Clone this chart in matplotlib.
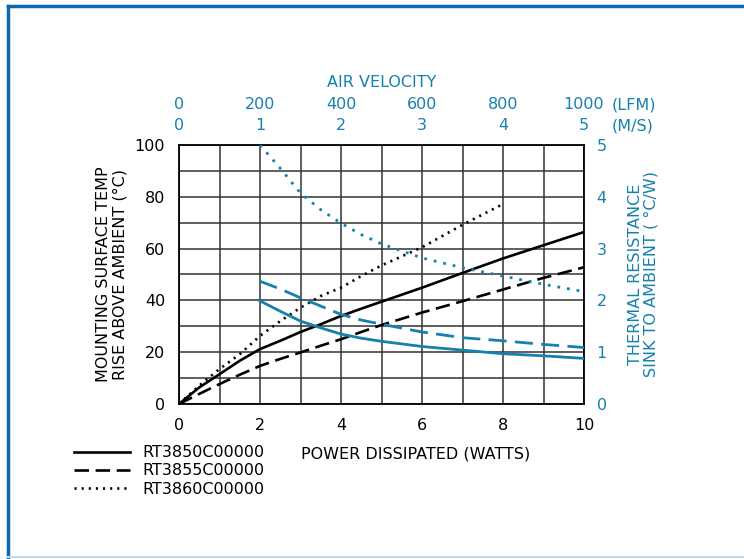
import matplotlib.pyplot as plt
from matplotlib.lines import Line2D

# power dissipated (W) vs temperature rise (deg C)
power = [0, 0.5, 1, 1.5, 2, 2.5, 3, 3.5, 4, 4.5, 5, 6, 7, 8, 9, 10]
rt3850_temp = [0, 6.4, 11.5, 16.7, 21.2, 24.4, 27.8, 30.8, 34.0, 36.8, 39.5,
               44.9, 50.6, 56.2, 61.3, 66.4]
rt3855_temp = [0, 3.9, 7.7, 11.3, 14.7, 17.4, 19.9, 22.5, 25.0, 27.8, 30.5,
               35.3, 39.7, 44.2, 48.7, 52.8]
power_3860 = [0, 0.5, 1, 1.5, 2, 2.5, 3, 3.5, 4, 4.5, 5, 6, 7, 8]
rt3860_temp = [0, 7.1, 13.5, 19.2, 26.3, 32.0, 37.2, 41.7, 44.9, 49.4, 53.5,
               60.5, 69.2, 77.2]

# air velocity (bottom-axis units, 2 = 200 LFM) vs thermal resistance (deg C/W)
velocity = [2, 2.5, 3, 3.5, 4, 4.5, 5, 6, 7, 8, 9, 10]
rt3850_res = [1.99, 1.79, 1.60, 1.47, 1.35, 1.27, 1.21, 1.11, 1.04, 0.97, 0.93, 0.88]
rt3855_res = [2.37, 2.22, 2.05, 1.89, 1.73, 1.62, 1.54, 1.39, 1.28, 1.22, 1.15, 1.09]
rt3860_res = [5.0, 4.55, 4.07, 3.75, 3.49, 3.27, 3.09, 2.82, 2.63, 2.47, 2.31, 2.17]

lfm_labels = ['0', '200', '400', '600', '800', '1000']
ms_labels = ['0', '1', '2', '3', '4', '5']
names = ['RT3850C00000', 'RT3855C00000', 'RT3860C00000']

blue = '#1681ad'
plt.rcParams['font.family'] = 'DejaVu Sans'
plt.rcParams['font.size'] = 11

fig = plt.figure(figsize=(7.44, 5.59), dpi=100)
ax = fig.add_axes([0.2406, 0.2773, 0.5444, 0.4633])

# frame around the picture
fig.add_artist(Line2D([0.0108, 1.0], [0.9893, 0.9893], color='#0d68ad', lw=2.5))
fig.add_artist(Line2D([0.0108, 0.0108], [0.003, 0.9893], color='#0d68ad', lw=2.5))
fig.add_artist(Line2D([0.0108, 1.0], [0.004, 0.004], color='#b9dcee', lw=1.5))

l1, = ax.plot(power, rt3850_temp, color='black', lw=1.9)
l2, = ax.plot(power, rt3855_temp, color='black', lw=1.9, linestyle=(0, (5.5, 2.5)))
l3, = ax.plot(power_3860, rt3860_temp, color='black', lw=1.9, linestyle=(0, (0.8, 1.9)))

ax.set_xlim(0, 10)
ax.set_ylim(0, 100)
ax.set_xticks(range(0, 11))
ax.set_xticklabels([str(i) if i % 2 == 0 else '' for i in range(0, 11)])
ax.set_yticks(range(0, 101, 10))
ax.set_yticklabels([str(v) if v % 20 == 0 else '' for v in range(0, 101, 10)])
ax.grid(True, color='#333333', lw=1.1)
ax.tick_params(length=0, pad=10, labelsize=11.5)
for s in ax.spines.values():
    s.set_linewidth(1.3)
ax.set_xlabel('POWER DISSIPATED (WATTS)', fontsize=11.5)
ax.xaxis.set_label_coords(0.585, -0.166)
ax.set_ylabel('MOUNTING SURFACE TEMP\nRISE ABOVE AMBIENT (°C)', fontsize=11.5,
              labelpad=5, linespacing=1.1)

ax2 = ax.twinx()
ax2.plot(velocity, rt3850_res, color=blue, lw=2.0)
ax2.plot(velocity, rt3855_res, color=blue, lw=2.0, linestyle=(0, (6.5, 3)))
ax2.plot(velocity, rt3860_res, color=blue, lw=2.0, linestyle=(0, (1, 2.5)))
ax2.set_ylim(0, 5)
ax2.set_yticks(range(0, 6))
ax2.tick_params(length=0, pad=9, labelsize=11.5, colors=blue)
for s in ax2.spines.values():
    s.set_visible(False)
ax2.set_ylabel('THERMAL RESISTANCE\nSINK TO AMBIENT ( °C/W)', color=blue, fontsize=11.5,
               labelpad=15, linespacing=1.1)

top = ax.secondary_xaxis('top')
top.set_xticks(range(0, 11, 2))
top.set_xticklabels([a + '\n' + b for a, b in zip(lfm_labels, ms_labels)],
                    linespacing=1.5)
top.tick_params(length=0, pad=9, labelsize=11.5, colors=blue)
top.spines['top'].set_visible(False)
top.set_xlabel('AIR VELOCITY', color=blue, fontsize=11.5, labelpad=7)
ax.text(10.69, 1.0 + 12 / 259, '(LFM)\n(M/S)', transform=ax.get_xaxis_transform(),
        color=blue, fontsize=11.5, va='bottom', ha='left', linespacing=1.5)

fig.legend([l1, l2, l3], names, loc='upper left', bbox_to_anchor=(0.091, 0.215),
           frameon=False, handlelength=3.5, handletextpad=0.8, labelspacing=0.2,
           fontsize=11.5, borderaxespad=0)

fig.savefig('out.png', dpi=100)
